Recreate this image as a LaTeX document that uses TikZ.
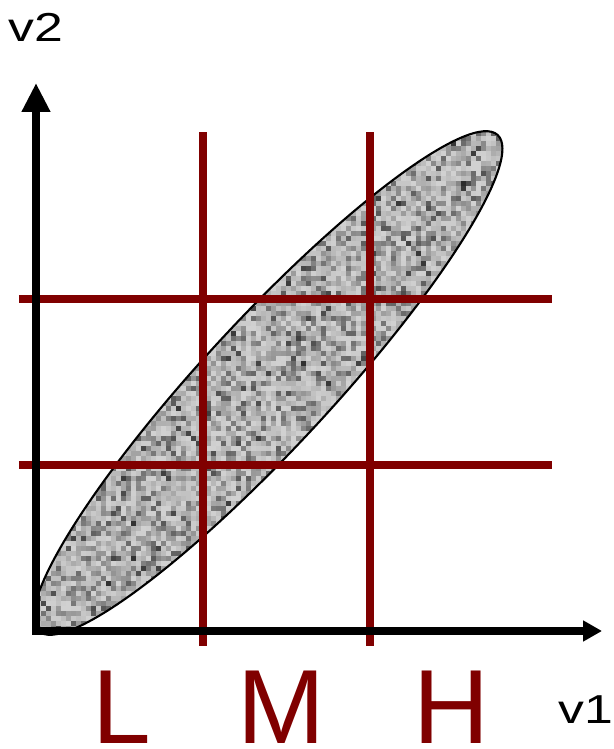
\documentclass[tikz,border=0pt]{standalone}
\usepackage{fontspec}
\setmainfont{Liberation Sans}
\usetikzlibrary{arrows.meta}
\definecolor{binred}{HTML}{800000}
\tikzset{
  axisline/.style={line width=4.5pt,{Triangle[length=5.8mm,width=5.4mm]}-{Triangle[length=3.8mm,width=4mm]}},
  cutline/.style={draw=binred,line width=4.4pt},
  cloud/.style={draw=black,line width=1.2pt},
  axislabel/.style={inner sep=0pt,anchor=base west,font=\fontsize{23}{28}\selectfont,xscale=1.28},
  binlabel/.style={inner sep=0pt,anchor=base,text=binred,font=\fontsize{60}{72}\selectfont},
}

\begin{document}
\begin{tikzpicture}[x=.02cm,y=.02cm]
  \useasboundingbox (-36,-118) rectangle (577,631);
  \pgfmathsetseed{7}
  \coordinate (C) at (232,248);
  \begin{scope}
    \clip (C) ellipse[x radius=338,y radius=64,rotate=47.2];
    \fill[black!35] (-10,-10) rectangle (475,510);
    \foreach \cx in {-5,0,...,470}{
      \pgfmathsetmacro\ylo{5*floor((248+(\cx+2.5-231)*1.08-100)/5)}
      \foreach \j in {0,...,40}{
        \pgfmathtruncatemacro\g{18+66*rnd*rnd}
        \fill[black!\g] (\cx,\ylo+5*\j) rectangle ++(5,5);
      }
    }
  \end{scope}
  \draw[cloud] (C) ellipse[x radius=338,y radius=64,rotate=47.2];
  \foreach \p in {167,334}{
    \draw[cutline] (\p,-15) -- (\p,499);
  }
  \foreach \q in {166,332}{
    \draw[cutline] (-17,\q) -- (516,\q);
  }
  \coordinate (O) at (0,0);
  \coordinate (xtip) at (566,0);
  \coordinate (ytip) at (0,548);
  \draw[axisline] (ytip) -- (O) -- (xtip);
  \node[axislabel] (v2) at (-28,589) {v2};
  \node[axislabel] (v1) at (522,-92) {v1};
  \node[binlabel] (L) at (86,-112) {L};
  \node[binlabel] (M) at (245,-112) {M};
  \node[binlabel] (H) at (416,-112) {H};
\end{tikzpicture}
\end{document}
